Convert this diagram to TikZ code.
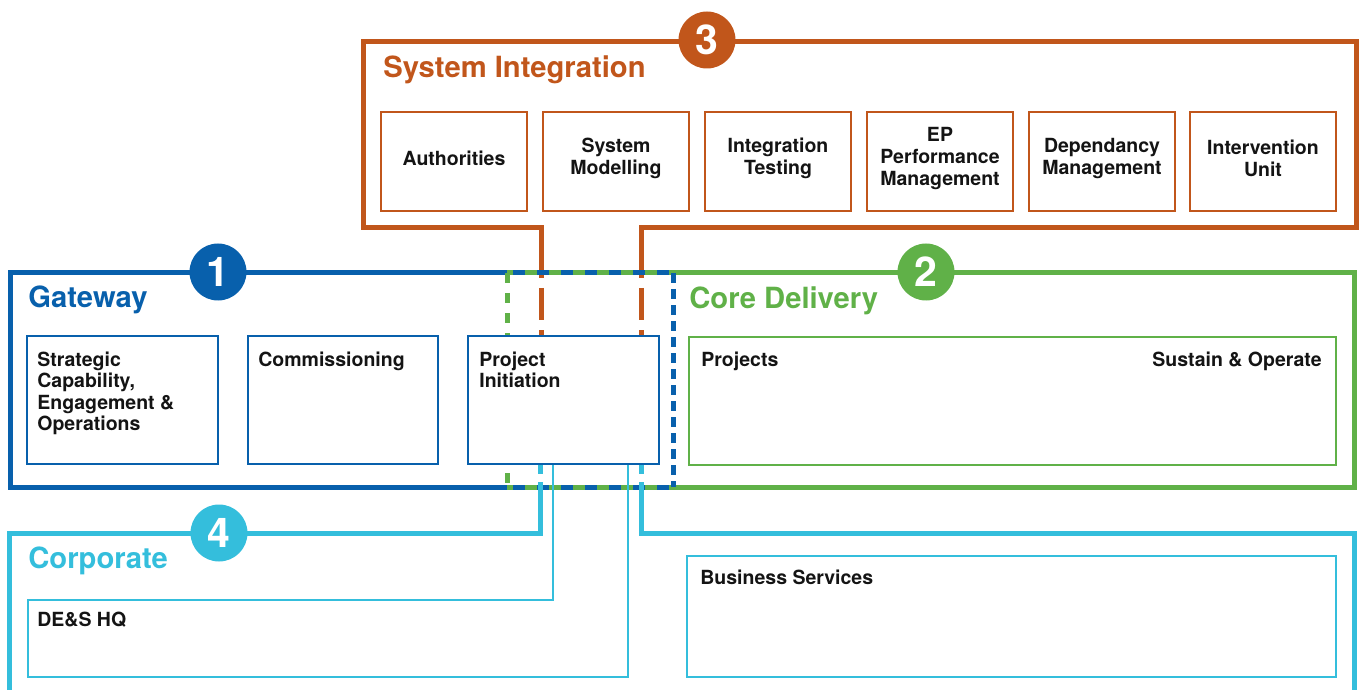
\documentclass[tikz,border=0pt]{standalone}
\usepackage{fontspec}
\setmainfont{TeX Gyre Heros}
\definecolor{siorange}{RGB}{193,86,27}
\definecolor{gwblue}{RGB}{8,96,172}
\definecolor{cdgreen}{RGB}{96,177,72}
\definecolor{corpcyan}{RGB}{52,190,220}
\definecolor{ink}{RGB}{20,20,20}
\pgfdeclarelayer{bg}
\pgfsetlayers{bg,main}
\begin{document}
\begin{tikzpicture}[x=0.5pt,y=-0.5pt,
  frame/.style={line width=2.5pt, line join=miter},
  thinline/.style={line width=1.3pt},
  boxnode/.style={draw, line width=1.35pt, fill=white, inner sep=0pt},
  sibox/.style={boxnode, draw=siorange, minimum width=73pt, minimum height=49.5pt},
  lbl/.style={font=\bfseries\fontsize{9.75}{10.8}\selectfont, text=ink, inner sep=0pt},
  silbl/.style={lbl, align=center, yshift=1.5pt},
  ttl/.style={font=\bfseries\fontsize{14.6}{16}\selectfont, anchor=base west, inner sep=0pt},
  badge/.style={circle, fill=#1, draw=none, minimum size=28.5pt, inner sep=0pt, text=white, font=\bfseries\fontsize{20.5}{20.5}\selectfont}]
\useasboundingbox (0,0) rectangle (1362,690);

% helper coordinates
\coordinate (xsiL) at (541,0);
\coordinate (xsiR) at (641,0);
\coordinate (xcL) at (540,0);
\coordinate (xcR) at (641,0);
\coordinate (xhqL) at (553,0);
\coordinate (xhqR) at (628,0);

% System Integration boxes
\node[sibox] (auth) at (454,161.5) {};
\node[sibox] (sysmod) at (616,161.5) {};
\node[sibox] (inttest) at (778,161.5) {};
\node[sibox] (eppm) at (940,161.5) {};
\node[sibox] (depm) at (1102,161.5) {};
\node[sibox] (intu) at (1263,161.5) {};
\node[silbl] (tauth) at (auth) {Authorities};
\node[silbl] (tsysmod) at (sysmod) {System\\Modelling};
\node[silbl] (tinttest) at (inttest) {Integration\\Testing};
\node[silbl] (teppm) at (eppm) {EP\\Performance\\Management};
\node[silbl] (tdepm) at (depm) {Dependancy\\Management};
\node[silbl] (tintu) at (intu) {Intervention\\Unit};

% Gateway boxes
\node[boxnode, draw=gwblue, minimum width=95.5pt, minimum height=64pt] (strat) at (122.5,400) {};
\node[boxnode, draw=gwblue, minimum width=95pt, minimum height=64pt] (comm) at (343,400) {};
\node[boxnode, draw=gwblue, minimum width=95.5pt, minimum height=64pt] (pi) at (563.5,400) {};

% Core delivery box
\node[boxnode, draw=cdgreen, minimum width=323.5pt, minimum height=64pt] (core) at (1012.5,401) {};

% Business services box
\node[boxnode, draw=corpcyan, minimum width=324.5pt, minimum height=60.5pt] (bs) at (1011.5,616.5) {};

% labels
\node[lbl, anchor=base west] (tstrat) at (37,366) {\vtop{\hbox{Strategic}\hbox{Capability,}\hbox{Engagement \&}\hbox{Operations}}};
\node[lbl, anchor=base west] (tcomm) at (258,366) {Commissioning};
\node[lbl, anchor=base west] (tpi) at (479,366) {\vtop{\hbox{Project}\hbox{Initiation}}};
\node[lbl, anchor=base west] (tproj) at (701,366) {Projects};
\node[lbl, anchor=base east] (tsust) at (1322,366) {Sustain \& Operate};
\node[lbl, anchor=base west] (tbs) at (700,584) {Business Services};
\node[lbl, anchor=base west] (thq) at (37,626) {DE\&S HQ};

% titles
\node[ttl, text=siorange] (tsi) at (383,78) {System Integration};
\node[ttl, text=gwblue] (tgw) at (28,307) {Gateway};
\node[ttl, text=cdgreen] (tcd) at (689,308) {Core Delivery};
\node[ttl, text=corpcyan] (tco) at (28,568) {Corporate};

\begin{pgfonlayer}{bg}
  % System Integration frame
  \draw[frame, siorange] (541,278) -- (541,228) -- (363,228) -- (363,42) -- (1356,42) -- (1356,228) -- (641,228) -- (641,278);
  \draw[frame, siorange, dash pattern=on 16pt off 5pt, dash phase=16pt] (541,278) -- (pi.north -| xsiL);
  \draw[frame, siorange, dash pattern=on 16pt off 5pt, dash phase=16pt] (641,278) -- (pi.north -| xsiR);
  % Gateway frame
  \draw[frame, gwblue] (507,273) -- (10,273) -- (10,487) -- (507,487);
  \draw[frame, gwblue] (507,273) -- (673,273);
  \draw[frame, gwblue] (507,487) -- (673,487);
  % Core delivery frame
  \draw[frame, cdgreen] (673,273) -- (1354,273) -- (1354,487) -- (673,487);
  \draw[frame, cdgreen, dash pattern=on 6pt off 6pt, dash phase=3pt] (507,273) -- (673,273);
  \draw[frame, cdgreen, dash pattern=on 6pt off 6pt, dash phase=3pt] (507,487) -- (673,487);
  \draw[frame, cdgreen, dash pattern=on 5pt off 5pt] (507,273) -- (507,487);
  \draw[frame, gwblue, dash pattern=on 5pt off 3pt] (673,273) -- (673,487);
  % Corporate frame
  \draw[frame, corpcyan] (pi.south -| xcL) -- ++(0,9);
  \draw[frame, corpcyan] (540,482) -- (540,533) -- (9,533) -- (9,700);
  \draw[frame, corpcyan] (pi.south -| xcR) -- ++(0,9);
  \draw[frame, corpcyan] (641,482) -- (641,533) -- (1354,533) -- (1354,700);
  % DE&S HQ outline
  \draw[thinline, corpcyan] (pi.south -| xhqL) -- (553,600) -- (28,600) -- (28,677) -- (628,677) -- (pi.south -| xhqR);
\end{pgfonlayer}

% badges
\node[badge=siorange] (b3) at (707,40) {3};
\node[badge=gwblue] (b1) at (218,272) {1};
\node[badge=cdgreen] (b2) at (926,272) {2};
\node[badge=corpcyan] (b4) at (219,533) {4};
\end{tikzpicture}
\end{document}
